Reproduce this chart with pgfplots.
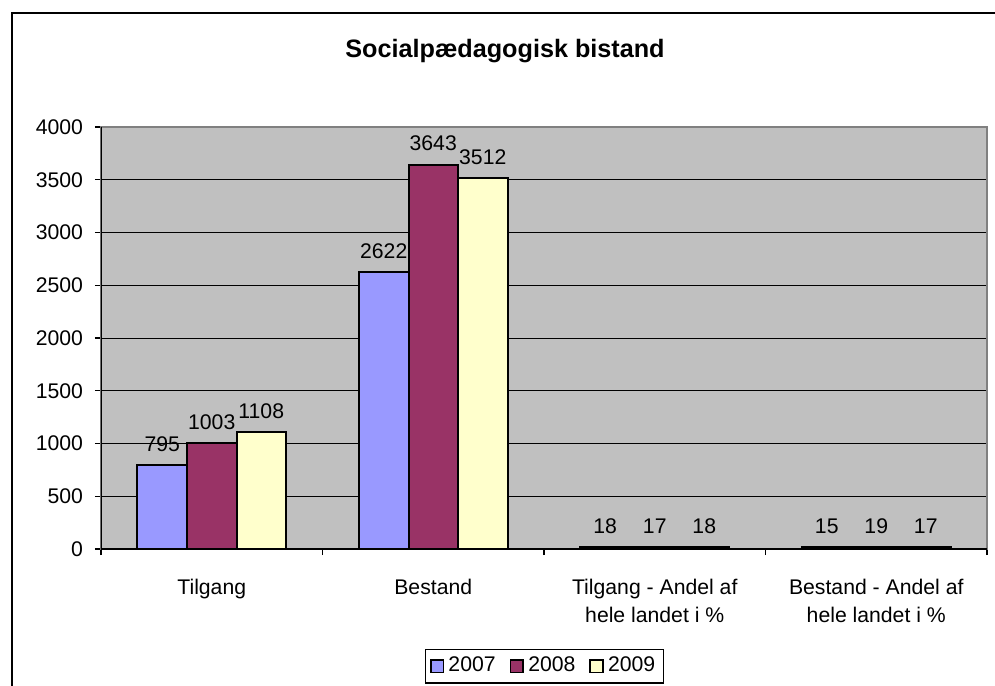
\documentclass[border=0pt]{standalone}
\usepackage{pgfplots}
\pgfplotsset{compat=1.18}
\usepackage{fontspec}
\setmainfont{Liberation Sans}
\definecolor{c07}{HTML}{9999FF}
\definecolor{c08}{HTML}{993366}
\definecolor{c09}{HTML}{FFFFCC}
\definecolor{plotbg}{HTML}{C0C0C0}
\definecolor{pframe}{HTML}{808080}
\begin{document}
\begin{tikzpicture}[x=1pt,y=1pt]
\path[use as bounding box] (0,0) rectangle (497.5,342.5);
\draw[line width=0.8pt, black] (6,-2) -- (6,336) -- (500,336);
\node[anchor=base, inner sep=0pt, font=\fontsize{12.6}{15}\selectfont\bfseries] at (252.5,313.5) {Socialpædagogisk bistand};
\begin{axis}[
  at={(50.5pt,68pt)}, anchor=south west,
  scale only axis, width=443pt, height=211pt,
  xmin=-0.5, xmax=3.5, ymin=0, ymax=4000,
  ytick={0,500,...,4000},
  xtick={0,1,2,3},
  xticklabels={Tilgang, Bestand, {Tilgang - Andel af\\hele landet i \%}, {Bestand - Andel af\\hele landet i \%}},
  minor xtick={-0.5,0.5,1.5,2.5,3.5},
  xtick pos=bottom, ytick pos=left,
  major x tick style={draw=none},
  minor x tick style={black, line width=0.6pt},
  ytick style={black, line width=0.6pt},
  tick align=outside, major tick length=3pt, minor tick length=3pt,
  ymajorgrids, grid style={black, line width=0.5pt},
  axis background/.style={fill=plotbg},
  axis line style={pframe, line width=1.2pt},
  tick label style={font=\fontsize{10.6}{13.8}\selectfont, black},
  /pgf/number format/assume math mode=true,
  /pgf/number format/1000 sep={},
  yticklabel style={xshift=-2.5pt},
  xticklabel style={align=center, yshift=-8.5pt},
  ybar, bar width=0.2235,
  nodes near coords,
  every node near coord/.append style={font=\fontsize{10.6}{12.6}\selectfont, black, yshift=3pt},
  legend columns=3,
  legend style={at={(0.5006,-0.2773)}, anchor=center, draw=black, line width=0.6pt,
    font=\fontsize{10.6}{12.6}\selectfont, inner xsep=2pt, inner ysep=2pt,
    /tikz/every even column/.append style={column sep=5pt}},
  legend image code/.code={\draw[#1, draw=black, line width=0.9pt] (0pt,-3.2pt) rectangle (6.4pt,3.2pt);},
]
\addplot[fill=c07, draw=black, line width=1pt, bar shift=-0.2235] coordinates {(0,795) (1,2622) (2,18) (3,15)};
\addplot[fill=c08, draw=black, line width=1pt, bar shift=0] coordinates {(0,1003) (1,3643) (2,17) (3,19)};
\addplot[fill=c09, draw=black, line width=1pt, bar shift=0.2235] coordinates {(0,1108) (1,3512) (2,18) (3,17)};
\legend{2007,2008,2009}
\draw[black, line width=1pt] (rel axis cs:0,1) -- (rel axis cs:0,0) -- (rel axis cs:1,0);
\end{axis}
\end{tikzpicture}
\end{document}
